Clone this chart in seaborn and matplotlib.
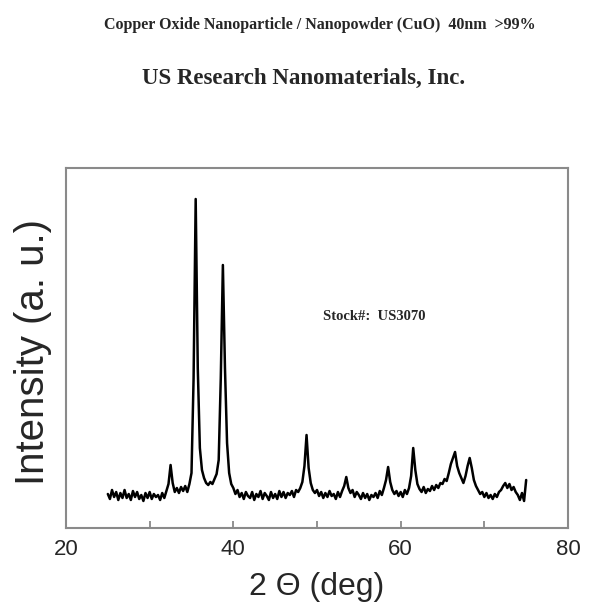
import matplotlib
matplotlib.use("Agg")
import matplotlib.pyplot as plt
import seaborn as sns
from matplotlib.ticker import MultipleLocator

# -------------------------------------
# Data (2 theta in deg, intensity in a.u.)
# -------------------------------------
two_theta = [
    25.0, 25.25, 25.5, 25.75, 26.0, 26.25, 26.5, 26.75,
    27.0, 27.25, 27.5, 27.75, 28.0, 28.25, 28.5, 28.75,
    29.0, 29.25, 29.5, 29.75, 30.0, 30.25, 30.5, 30.75,
    31.0, 31.25, 31.5, 31.75, 32.0, 32.25, 32.5, 32.75,
    33.0, 33.25, 33.5, 33.75, 34.0, 34.25, 34.5, 34.75,
    35.0, 35.25, 35.5, 35.75, 36.0, 36.25, 36.5, 36.75,
    37.0, 37.25, 37.5, 37.75, 38.0, 38.25, 38.5, 38.75,
    39.0, 39.25, 39.5, 39.75, 40.0, 40.25, 40.5, 40.75,
    41.0, 41.25, 41.5, 41.75, 42.0, 42.25, 42.5, 42.75,
    43.0, 43.25, 43.5, 43.75, 44.0, 44.25, 44.5, 44.75,
    45.0, 45.25, 45.5, 45.75, 46.0, 46.25, 46.5, 46.75,
    47.0, 47.25, 47.5, 47.75, 48.0, 48.25, 48.5, 48.75,
    49.0, 49.25, 49.5, 49.75, 50.0, 50.25, 50.5, 50.75,
    51.0, 51.25, 51.5, 51.75, 52.0, 52.25, 52.5, 52.75,
    53.0, 53.25, 53.5, 53.75, 54.0, 54.25, 54.5, 54.75,
    55.0, 55.25, 55.5, 55.75, 56.0, 56.25, 56.5, 56.75,
    57.0, 57.25, 57.5, 57.75, 58.0, 58.25, 58.5, 58.75,
    59.0, 59.25, 59.5, 59.75, 60.0, 60.25, 60.5, 60.75,
    61.0, 61.25, 61.5, 61.75, 62.0, 62.25, 62.5, 62.75,
    63.0, 63.25, 63.5, 63.75, 64.0, 64.25, 64.5, 64.75,
    65.0, 65.25, 65.5, 65.75, 66.0, 66.25, 66.5, 66.75,
    67.0, 67.25, 67.5, 67.75, 68.0, 68.25, 68.5, 68.75,
    69.0, 69.25, 69.5, 69.75, 70.0, 70.25, 70.5, 70.75,
    71.0, 71.25, 71.5, 71.75, 72.0, 72.25, 72.5, 72.75,
    73.0, 73.25, 73.5, 73.75, 74.0, 74.25, 74.5, 74.75,
    75.0,
]

intensity = [
    34, 29, 38, 31, 36, 28, 35, 30,
    38, 30, 34, 28, 37, 31, 36, 29,
    33, 27, 35, 30, 36, 29, 34, 31,
    33, 28, 35, 30, 37, 44, 63, 45,
    36, 40, 35, 41, 37, 42, 36, 44,
    55, 150, 329, 160, 80, 58, 50, 45,
    43, 46, 44, 49, 54, 68, 150, 263,
    160, 85, 55, 44, 40, 34, 38, 31,
    35, 29, 36, 32, 30, 36, 28, 34,
    31, 37, 29, 35, 32, 28, 36, 30,
    34, 29, 37, 31, 36, 30, 35, 33,
    37, 31, 38, 36, 40, 46, 62, 93,
    60, 45, 38, 35, 38, 32, 36, 30,
    35, 31, 37, 32, 34, 29, 36, 31,
    37, 42, 51, 40, 35, 38, 31, 36,
    33, 29, 35, 30, 34, 28, 33, 31,
    35, 30, 37, 33, 40, 48, 61, 46,
    38, 34, 37, 32, 36, 31, 38, 34,
    40, 52, 80, 58, 44, 39, 36, 41,
    35, 39, 37, 42, 38, 43, 40, 45,
    44, 49, 47, 55, 64, 70, 76, 62,
    55, 50, 45, 52, 62, 70, 60, 48,
    42, 38, 34, 36, 31, 35, 30, 33,
    29, 34, 31, 36, 38, 42, 45, 40,
    44, 38, 41, 36, 33, 28, 35, 27,
    48,
]

title_top = "Copper Oxide Nanoparticle / Nanopowder (CuO)  40nm  >99%"
title_company = "US Research Nanomaterials, Inc."
stock_label = "Stock#:  US3070"
stock_pos = (50.7, 211)

x_ticks_major = [20, 40, 60, 80]

# -------------------------------------
# Plot
# -------------------------------------
sns.set_style("white")
plt.rcParams["font.family"] = ["Liberation Sans", "DejaVu Sans"]

fig = plt.figure(figsize=(5.92, 6.08), dpi=100)
ax = fig.add_axes([66 / 592, 80 / 608, 502 / 592, 360 / 608])

sns.lineplot(x=two_theta, y=intensity, ax=ax, color="black", lw=1.8,
             estimator=None, sort=False)

ax.set_xlim(20, 80)
ax.set_ylim(0, 360)
ax.set_xticks(x_ticks_major)
ax.xaxis.set_minor_locator(MultipleLocator(10))
ax.set_yticks([])
ax.tick_params(axis="x", which="both", direction="in", length=5, width=1.2,
               color="#7f7f7f", labelsize=16, pad=8, bottom=True)

for side in ["left", "right", "top", "bottom"]:
    ax.spines[side].set_color("#8a8a8a")
    ax.spines[side].set_linewidth(1.5)

ax.set_xlabel("2 \u0398 (deg)", fontsize=23, va="center")
ax.xaxis.set_label_coords(0.5, -0.165)
ax.set_ylabel("Intensity (a. u.)", fontsize=29, va="center")
ax.yaxis.set_label_coords(-0.066, 0.49)

ax.text(stock_pos[0], stock_pos[1], stock_label, family="Liberation Serif",
        fontweight="bold", fontsize=10.5, va="center", ha="left")

fig.text(0.541, 1 - 25 / 608, title_top, family="Liberation Serif",
         fontweight="bold", fontsize=11.5, ha="center", va="center")
fig.text(0.513, 1 - 78 / 608, title_company, family="Liberation Serif",
         fontweight="bold", fontsize=16.5, ha="center", va="center")

fig.savefig("out.png", dpi=100, facecolor="white")
